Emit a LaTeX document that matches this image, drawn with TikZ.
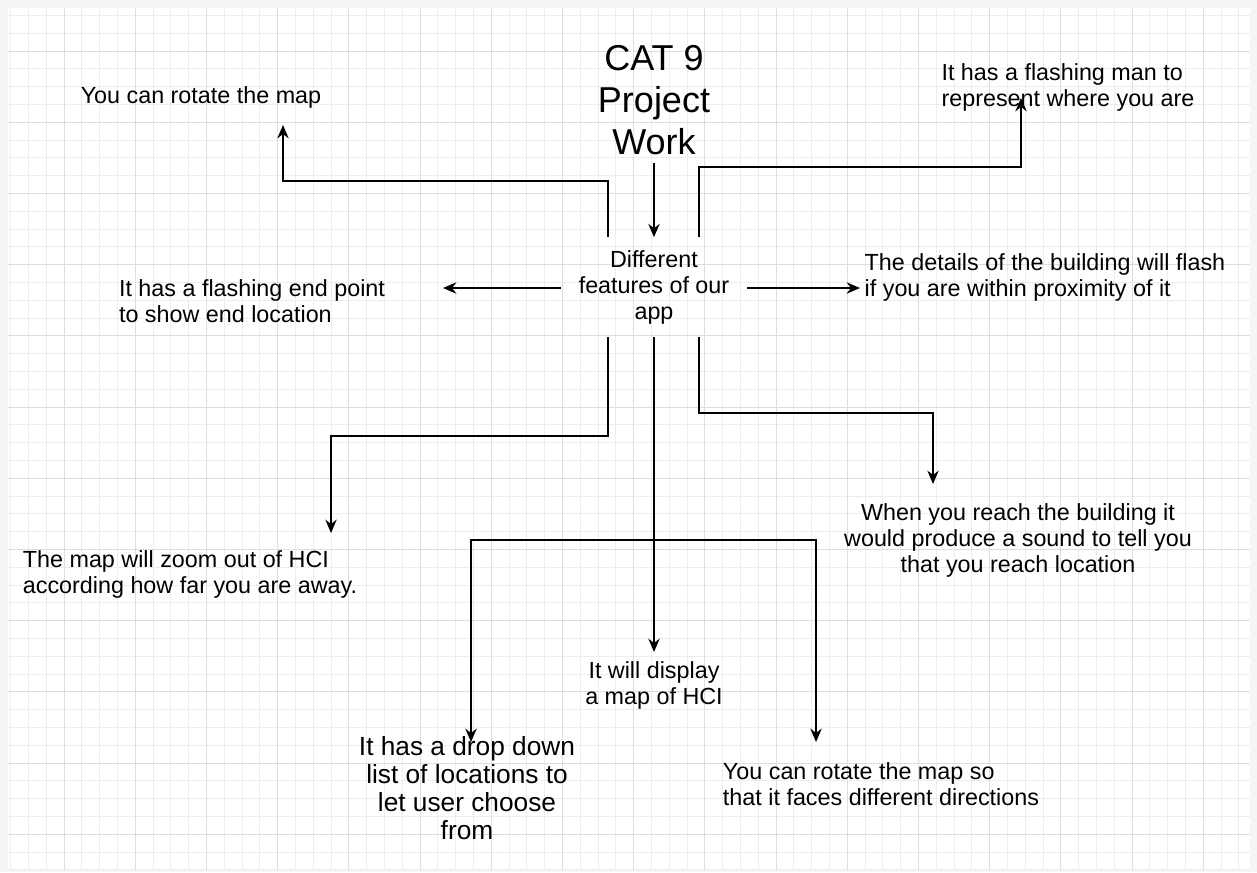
\documentclass[tikz,border=0pt]{standalone}
\usepackage{fontspec}
\setmainfont{Liberation Sans}
\usetikzlibrary{positioning,
        arrows.meta}
\usepackage{xcolor}

\begin{document}
\begin{tikzpicture}[x=0.75pt,y=-0.75pt,
        txt/.style={font=\fontsize{17.5}{19.5}\selectfont,inner sep=0pt},
        arr/.style={-{Stealth[length=10pt,width=8.5pt]},line width=1.4pt}]
        % paper and grid
        \fill[black!4] (0,0) rectangle (1257,872);
        \fill[white] (8,8) rectangle (1250,870);
        \foreach \i in {0,...,69}
            \draw[black!7,line width=0.6pt] ({10.6+17.8*\i},8) -- ({10.6+17.8*\i},870);
        \foreach \i in {0,...,48}
            \draw[black!7,line width=0.6pt] (8,{15.4+17.8*\i}) -- (1250,{15.4+17.8*\i});
        \foreach \i in {0,...,16}
            \draw[black!13,line width=0.6pt] ({64+71.2*\i},8) -- ({64+71.2*\i},870);
        \foreach \i in {0,...,11}
            \draw[black!13,line width=0.6pt] (8,{51+71.2*\i}) -- (1250,{51+71.2*\i});

        \node [txt,font=\fontsize{27}{31.5}\selectfont,align=center] (title) at (654,100) {CAT 9\\Project\\Work};
        \node [txt,align=center,minimum width=138.75pt,minimum height=74.25pt] (feat) at (654,287) {Different\\features of our\\app};

        \node [txt] (rotmap) at (201,97) {You can rotate the map};
        \node [txt,align=left] (man) at (1068,87) {It has a flashing man to\\represent where you are};
        \node [txt,align=left] (endpt) at (252,301) {It has a flashing end point\\to show end location};
        \node [txt,align=left] (detail) at (1045,277) {The details of the building will flash\\if you are within proximity of it};
        \node [txt,align=left] (zoomout) at (190,574) {The map will zoom out of HCI\\according how far you are away.};
        \node [txt,align=center] (display) at (654,685) {It will display\\a map of HCI};
        \node [txt,align=center] (reach) at (1018,540) {When you reach the building it\\would produce a sound to tell you\\that you reach location};
        \node [txt,font=\fontsize{19.7}{21}\selectfont,align=center] (drop) at (467,788) {It has a drop down\\list of locations to\\let user choose\\from};
        \node [txt,align=left] (dirs) at (881,784) {You can rotate the map so\\that it faces different directions};

        \coordinate (rotTip) at (283,125);
        \coordinate (manTip) at (1021,98);
        \coordinate (endTip) at (443,288);
        \coordinate (detTip) at (860,288);
        \coordinate (zoomTip) at (331,533);
        \coordinate (dispTip) at (654,652);
        \coordinate (reachTip) at (933,484);
        \coordinate (split) at (654,540);
        \coordinate (dropTip) at (471,742);
        \coordinate (dirsTip) at (816,742);

        \draw[arr,shorten <=6pt] (title) -- (feat);
        \draw[arr] ([xshift=-34.5pt]feat.north) -- ++(0,-56) -| (rotTip);
        \draw[arr] ([xshift=33.75pt]feat.north) -- ++(0,-70) -| (manTip);
        \draw[arr] (feat.west |- endTip) -- (endTip);
        \draw[arr] (feat.east |- detTip) -- (detTip);
        \draw[arr] ([xshift=-34.5pt]feat.south) -- ++(0,99) -| (zoomTip);
        \draw[arr] (feat.south) -- (dispTip);
        \draw[arr] ([xshift=33.75pt]feat.south) -- ++(0,76) -| (reachTip);
        \draw[arr] (split) -| (dropTip);
        \draw[arr] (split) -| (dirsTip);
    \end{tikzpicture}
\end{document}
